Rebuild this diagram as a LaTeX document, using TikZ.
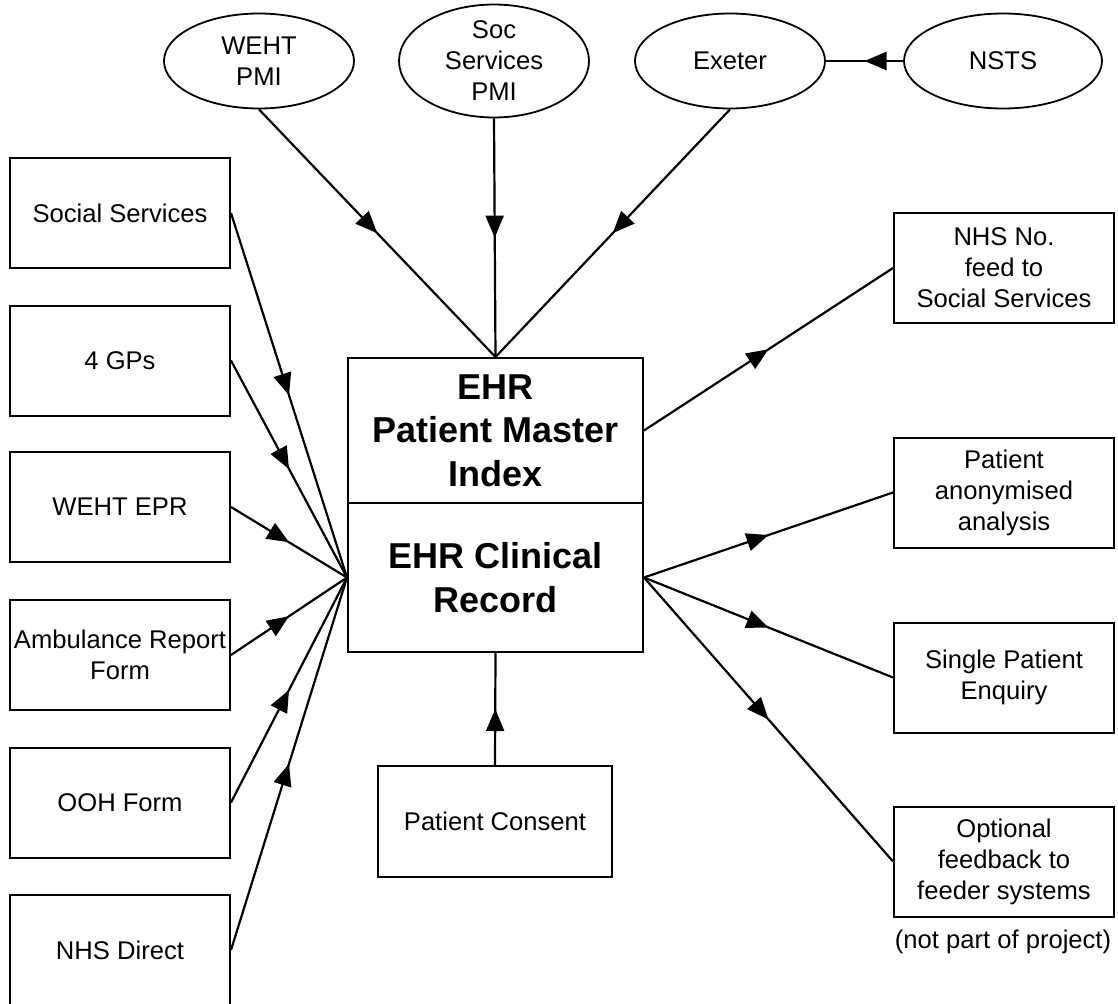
\documentclass[tikz,border=0pt]{standalone}
\usepackage{fontspec}
\setmainfont{Liberation Sans}
\usetikzlibrary{shapes.geometric,arrows.meta,decorations.markings}
\begin{document}
\begin{tikzpicture}[x=1pt,y=-1pt,
  every node/.style={font=\fontsize{25.6}{31}\selectfont, align=center, inner sep=0pt},
  sbox/.style={draw, line width=2pt, minimum width=220pt, minimum height=110pt},
  oval/.style={draw, ellipse, line width=1.8pt, minimum width=190pt, minimum height=95pt},
  mainbox/.style={draw, line width=2pt, minimum width=295pt, font=\fontsize{36}{43.5}\selectfont\bfseries},
  conn/.style={line width=2.2pt, postaction={decorate, decoration={markings,
      mark=at position 0.5 with {\arrow{Triangle[length=22pt,width=18pt]}}}}}
]
\useasboundingbox (0,0) rectangle (1118,1003);
% central box
\node[mainbox, minimum height=145pt] (pmi) at (495.5,430.5) {EHR\\Patient Master\\Index};
\node[mainbox, minimum height=149pt] (cr) at (495.5,577.5) {EHR Clinical\\Record};
% ellipses
\node[oval] (weht) at (259,61) {WEHT\\PMI};
\node[oval] (socpmi) at (494,61) {Soc\\Services\\PMI};
\node[oval] (exeter) at (730,61) {Exeter};
\node[oval, minimum width=198pt] (nsts) at (1003,61) {NSTS};
% left boxes
\node[sbox] (ss) at (120,213) {Social Services};
\node[sbox] (gps) at (120,360.5) {4 GPs};
\node[sbox] (epr) at (120,507) {WEHT EPR};
\node[sbox] (amb) at (120,655) {Ambulance Report\\Form};
\node[sbox] (ooh) at (120,802.5) {OOH Form};
\node[sbox] (nhsd) at (120,950) {NHS Direct};
% right boxes
\node[sbox] (nhsno) at (1004,268) {NHS No.\\feed to\\Social Services};
\node[sbox] (anon) at (1004,492.5) {Patient\\anonymised\\analysis};
\node[sbox] (spe) at (1004,677.5) {Single Patient\\Enquiry};
\node[sbox] (opt) at (1004,861.5) {Optional\\feedback to\\feeder systems};
\node (npp) at (1003,942) {(not part of project)};
% consent
\node[sbox, minimum width=234pt, minimum height=111pt] (consent) at (495,821.5) {Patient Consent};
% connectors
\draw[conn] (weht.south) -- (pmi.north);
\draw[conn] (socpmi.south) -- (pmi.north);
\draw[conn] (exeter.south) -- (pmi.north);
\draw[conn] (nsts.west) -- (exeter.east);
\draw[conn] (ss.east) -- (cr.west);
\draw[conn] (gps.east) -- (cr.west);
\draw[conn] (epr.east) -- (cr.west);
\draw[conn] (amb.east) -- (cr.west);
\draw[conn] (ooh.east) -- (cr.west);
\draw[conn] (nhsd.east) -- (cr.west);
\draw[conn] (pmi.east) -- (nhsno.west);
\draw[conn] (cr.east) -- (anon.west);
\draw[conn] (cr.east) -- (spe.west);
\draw[conn] (cr.east) -- (opt.west);
\draw[conn] (consent.north) -- (cr.south);
\end{tikzpicture}
\end{document}
